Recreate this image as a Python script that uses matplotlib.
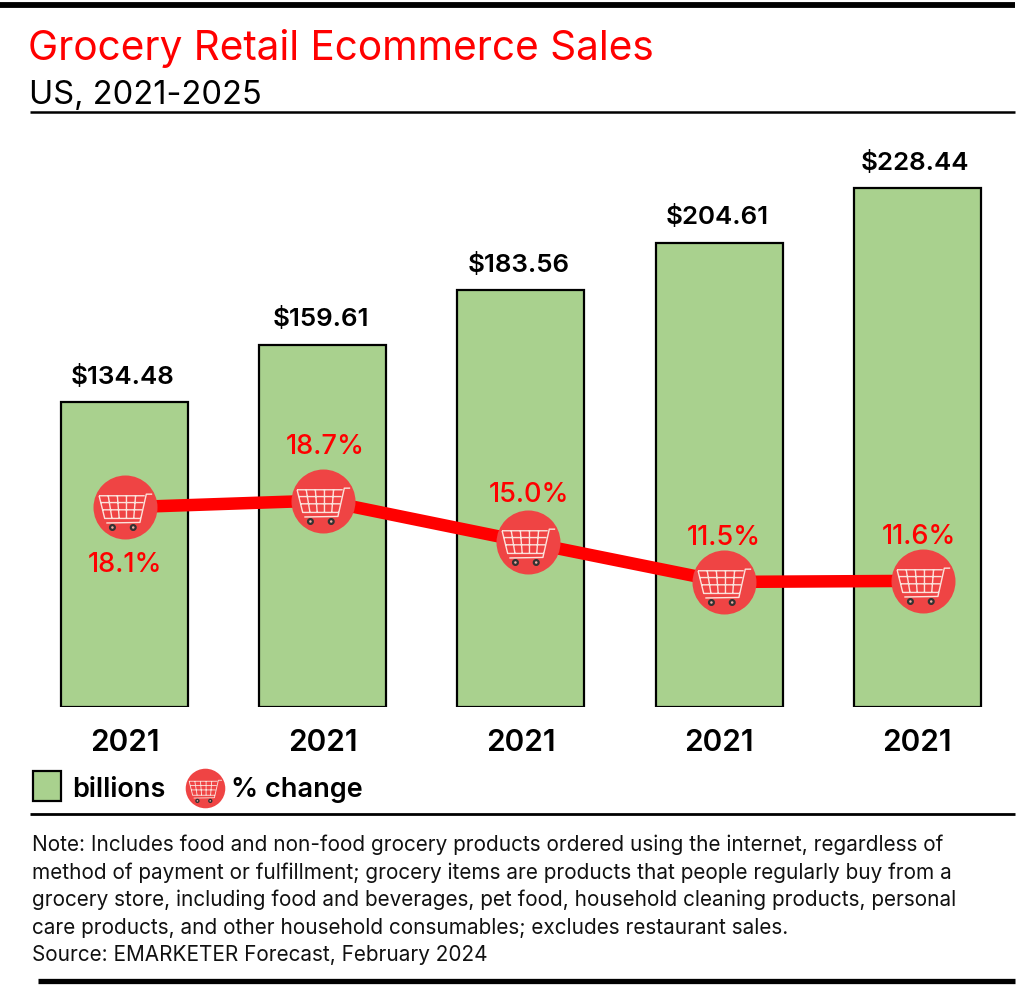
import matplotlib
matplotlib.use("Agg")
import matplotlib.pyplot as plt
from matplotlib.path import Path
from matplotlib.patches import Rectangle

plt.rcParams['font.family'] = ['Inter', 'DejaVu Sans']

years = ['2021', '2021', '2021', '2021', '2021']
sales = [134.48, 159.61, 183.56, 204.61, 228.44]
pct = [18.1, 18.7, 15.0, 11.5, 11.6]
pct_x = [0.0, 1.0, 2.035, 3.025, 4.03]
pct_offset = [-58, 54, 47, 44, 44]
pct_dx = [0, 3, 1, 0, -4]
title = 'Grocery Retail Ecommerce Sales'
subtitle = 'US, 2021-2025'
note = ("Note: Includes food and non-food grocery products ordered using the internet, regardless of\n"
        "method of payment or fulfillment; grocery items are products that people regularly buy from a\n"
        "grocery store, including food and beverages, pet food, household cleaning products, personal\n"
        "care products, and other household consumables; excludes restaurant sales.\n"
        "Source: EMARKETER Forecast, February 2024")

RED = '#ff0000'
CIRCLE = '#ef4444'
GREEN = '#a9d18e'
W, H = 1024, 988


def cart_path():
    v, c = [], []
    def seg(*pts):
        for i, p in enumerate(pts):
            v.append(p)
            c.append(Path.MOVETO if i == 0 else Path.LINETO)
    seg((1, .5), (.78, .5), (.54, -.56), (-.72, -.58))
    seg((-.99, .44), (.72, .44))
    seg((-.99, .44), (-.78, -.41), (.58, -.41))
    for t in (.2, .4, .6, .8):
        xt, xb = -.99 + t * 1.71, -.78 + t * 1.36
        seg((xt, .44), (xb, -.41))
    for t in (.3, .62):
        seg((-.99 + t * .21, .44 - t * .85), (.72 - t * .16, .44 - t * .85))
    seg((-1, -1), (-1, -1))
    return Path(v, c)


CART = cart_path()


def wheels_path():
    a = Path.circle((-.49, -.75), .09)
    b = Path.circle((.29, -.75), .09)
    return Path.make_compound_path(a, b, Path([(1, 1), (1, 1)], [Path.MOVETO, Path.LINETO]),
                                   Path([(-1, -1), (-1, -1)], [Path.MOVETO, Path.LINETO]))


WHEELS = wheels_path()


def draw_icon(ax, x, y, d_pt, z=5):
    k = d_pt / 46.08
    ax.plot(x, y, 'o', ms=d_pt, mfc=CIRCLE, mec='none', ls='none', zorder=z)
    ax.plot(x, y, marker=CART, ms=38.4 * k, mfc='none', mec='#fbe3dc', mew=1.0 * k, ls='none', zorder=z + 1)
    ax.plot(x, y, marker=WHEELS, ms=38.4 * k, mfc='#f2a9a0', mec='#333333', mew=1.6 * k, ls='none', zorder=z + 1)


fig = plt.figure(figsize=(W / 100, H / 100), dpi=100, facecolor='white')

base_px, top_px = 707, 150
ax = fig.add_axes([0, (H - base_px) / H, 1, (base_px - top_px) / H])
ax.set_xlim(-124.5 / 198.2, (W - 124.5) / 198.2)
ax.set_ylim(0, (base_px - top_px) / 2.27)
xs = list(range(len(sales)))
ax.bar(xs, sales, width=0.64, color=GREEN, edgecolor='black', linewidth=1.6, zorder=2)
for i, s in enumerate(sales):
    ax.annotate(f'${s:.2f}', (i, s), xytext=(-1.5, 9.5), textcoords='offset points',
                ha='center', va='bottom', fontsize=18.7, fontweight='semibold', color='black', zorder=8)
for sp in ax.spines.values():
    sp.set_visible(False)
ax.set_yticks([])
ax.set_xticks(xs, years)
ax.tick_params(axis='x', length=0, pad=15.5, labelsize=21.5)
for t in ax.get_xticklabels():
    t.set_fontweight('semibold')
ax.patch.set_alpha(0)

ax2 = ax.twinx()
ax2.set_ylim(0.44, 49.7)
ax2.set_yticks([])
for sp in ax2.spines.values():
    sp.set_visible(False)
ax2.patch.set_alpha(0)
ax2.plot(pct_x, pct, color=RED, lw=9, solid_capstyle='butt', zorder=4)
for x, p in zip(pct_x, pct):
    draw_icon(ax2, x, p, 46.08)
for x, p, o, dx in zip(pct_x, pct, pct_offset, pct_dx):
    ax2.annotate(f'{p:.1f}%', (x, p), xytext=(dx * 0.72, o * 0.72), textcoords='offset points',
                 ha='center', va='center', fontsize=19.5, color=RED, fontweight='medium', zorder=8)

ov = fig.add_axes([0, 0, 1, 1], zorder=10)
ov.set_xlim(0, W)
ov.set_ylim(H, 0)
ov.axis('off')
ov.patch.set_alpha(0)
ov.plot([0, 1015], [5, 5], color='black', lw=4.2, solid_capstyle='butt')
ov.plot([30, 1015], [112, 112], color='black', lw=1.8, solid_capstyle='butt')
ov.plot([30, 1015], [813.5, 813.5], color='black', lw=2.0, solid_capstyle='butt')
ov.plot([38, 1015], [981, 981], color='black', lw=3.8, solid_capstyle='butt')
ov.text(28, 48, title, color=RED, fontsize=29.2, va='center', ha='left')
ov.text(29, 95, subtitle, color='black', fontsize=23.5, va='center', ha='left')
ov.add_patch(Rectangle((33, 771), 28, 30, facecolor=GREEN, edgecolor='black', lw=1.6))
ov.text(72, 790, 'billions', fontsize=19.5, fontweight='semibold', va='center', ha='left')
draw_icon(ov, 205, 788, 28.5)
ov.text(231, 790, '% change', fontsize=19.5, fontweight='semibold', va='center', ha='left')
ov.text(32, 899.5, note, fontsize=14.95, va='center', ha='left', linespacing=1.44, color='#111111')

fig.savefig('out.png', dpi=100, facecolor='white')
